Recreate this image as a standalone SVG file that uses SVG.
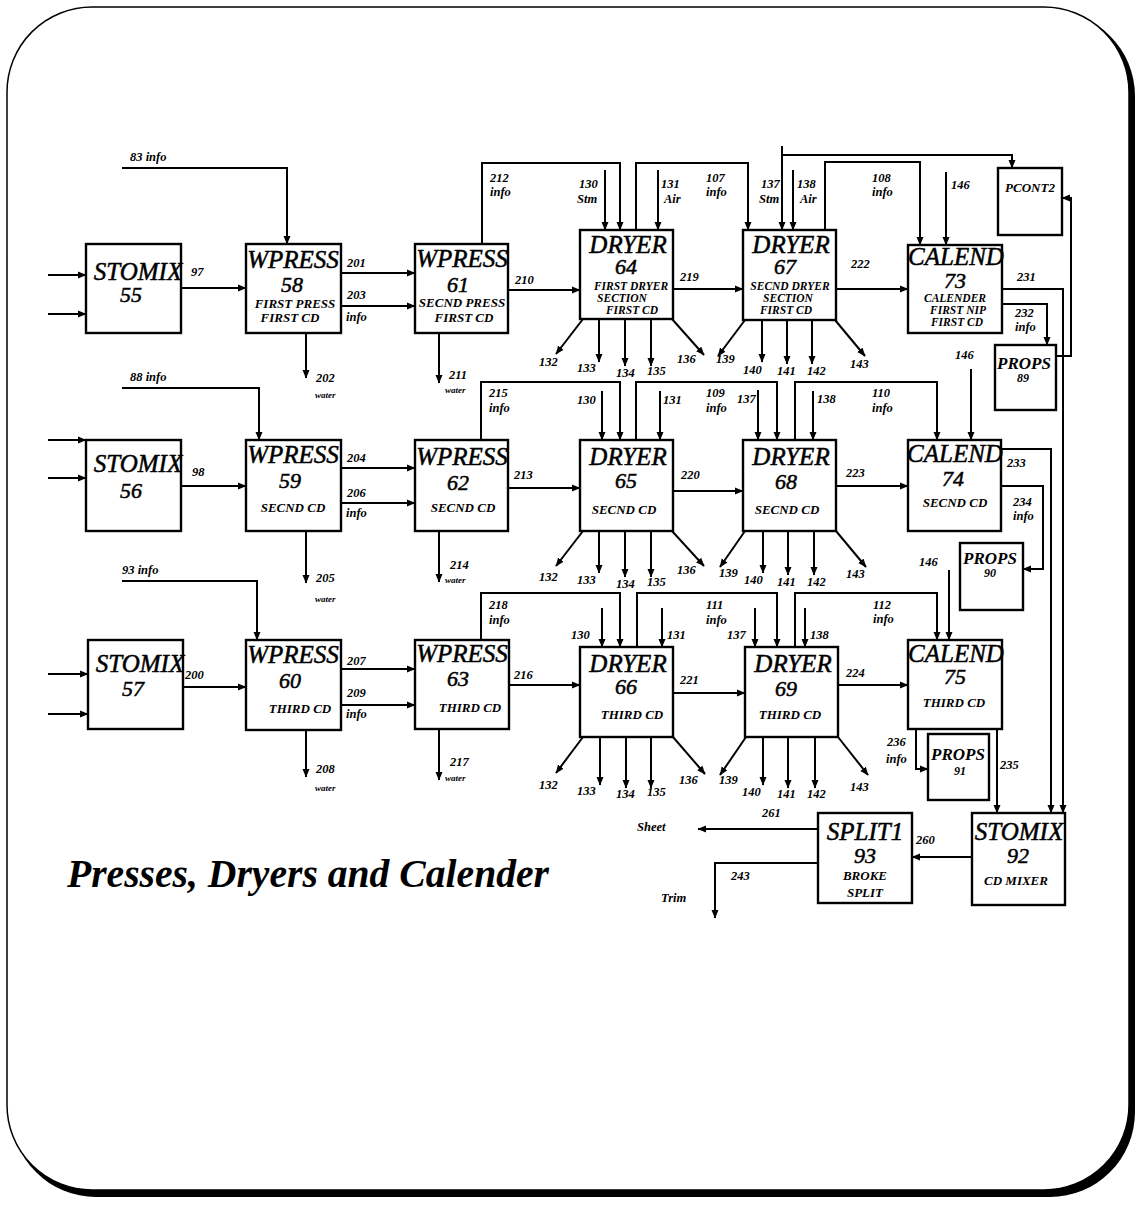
<svg xmlns="http://www.w3.org/2000/svg" width="1142" height="1205" viewBox="0 0 1142 1205">
<defs>
<marker id="ah" markerWidth="9" markerHeight="8" refX="8" refY="4" orient="auto" markerUnits="userSpaceOnUse"><path d="M0,0.5 L8.5,4 L0,7.5 z" fill="#000"/></marker>
<style>
.box{fill:#fff;stroke:#000;stroke-width:2.4}
.ln{fill:none;stroke:#000;stroke-width:2}
.a{marker-end:url(#ah)}
text{font-family:"Liberation Serif","Times New Roman",serif;font-style:italic;fill:#000}
.t{font-size:25px;text-anchor:middle;stroke:#000;stroke-width:0.5}
.n{font-size:22px;text-anchor:middle;stroke:#000;stroke-width:0.5}
.s{font-size:13px;font-weight:bold;text-anchor:middle}
.s3{font-size:11.5px;font-weight:bold;text-anchor:middle}
.p{font-size:17px;font-weight:bold;text-anchor:middle}
.pn{font-size:12px;font-weight:bold;text-anchor:middle}
.l{font-size:12.5px;font-weight:bold}
.w{font-size:9px;font-weight:bold}
.title{font-size:39px;font-weight:bold}
</style>
</defs>
<rect x="11" y="11" width="1124" height="1186" rx="85" fill="#000"/>
<rect x="7" y="7" width="1122" height="1183" rx="85" fill="#fff" stroke="#000" stroke-width="1.5"/>

<g id="connectors">
<!-- row 1 -->
<path class="ln a" d="M48 275 H86"/>
<path class="ln a" d="M48 314 H86"/>
<path class="ln a" d="M181 288 H246"/>
<path class="ln a" d="M122 168 H287 V244"/>
<path class="ln a" d="M341 273 H415"/>
<path class="ln a" d="M341 306 H415"/>
<path class="ln a" d="M306 333 V378"/>
<path class="ln a" d="M439 333 V383"/>
<path class="ln a" d="M508 290 H580"/>
<path class="ln a" d="M482 244 V163 H620 V230"/>
<path class="ln a" d="M605 170 V230"/>
<path class="ln a" d="M658 170 V230"/>
<path class="ln a" d="M636 230 V163 H748 V230"/>
<path class="ln a" d="M673 289 H743"/>
<path class="ln a" d="M583 319 L556 354"/>
<path class="ln a" d="M599 319 V362"/>
<path class="ln a" d="M625 319 V366"/>
<path class="ln a" d="M651 319 V366"/>
<path class="ln a" d="M672 319 L704 355"/>
<path class="ln a" d="M782 146 V230"/>
<path class="ln a" d="M782 155 H1012 V168"/>
<path class="ln a" d="M793 170 V230"/>
<path class="ln a" d="M825 230 V162 H920 V245"/>
<path class="ln a" d="M836 289 H908"/>
<path class="ln a" d="M745 320 L718 356"/>
<path class="ln a" d="M762 320 V362"/>
<path class="ln a" d="M787 320 V364"/>
<path class="ln a" d="M812 320 V364"/>
<path class="ln a" d="M835 320 L865 356"/>
<path class="ln a" d="M946 172 V245"/>
<path class="ln a" d="M1002 289 H1063 V813"/>
<path class="ln a" d="M1002 304 H1047 V345"/>
<path class="ln a" d="M1056 356 H1071 V198 H1062"/>
<!-- row 2 -->
<path class="ln a" d="M48 440 H86"/>
<path class="ln a" d="M48 478 H86"/>
<path class="ln a" d="M181 486 H246"/>
<path class="ln a" d="M122 388 H259 V440"/>
<path class="ln a" d="M341 468 H415"/>
<path class="ln a" d="M341 503 H415"/>
<path class="ln a" d="M306 531 V583"/>
<path class="ln a" d="M439 531 V582"/>
<path class="ln a" d="M508 488 H580"/>
<path class="ln a" d="M481 440 V382 H620 V440"/>
<path class="ln a" d="M602 391 V440"/>
<path class="ln a" d="M660 391 V440"/>
<path class="ln a" d="M636 440 V382 H777 V440"/>
<path class="ln a" d="M673 491 H743"/>
<path class="ln a" d="M583 531 L556 566"/>
<path class="ln a" d="M599 531 V573"/>
<path class="ln a" d="M625 531 V577"/>
<path class="ln a" d="M651 531 V577"/>
<path class="ln a" d="M672 531 L704 566"/>
<path class="ln a" d="M758 390 V440"/>
<path class="ln a" d="M813 391 V440"/>
<path class="ln a" d="M795 440 V382 H937 V440"/>
<path class="ln a" d="M836 486 H908"/>
<path class="ln a" d="M745 531 L720 567"/>
<path class="ln a" d="M763 531 V573"/>
<path class="ln a" d="M788 531 V575"/>
<path class="ln a" d="M814 531 V575"/>
<path class="ln a" d="M836 531 L866 567"/>
<path class="ln a" d="M971 369 V440"/>
<path class="ln a" d="M1001 449 H1051 V813"/>
<path class="ln a" d="M1001 486 H1043 V569 H1023"/>
<!-- row 3 -->
<path class="ln a" d="M48 674 H88"/>
<path class="ln a" d="M48 714 H88"/>
<path class="ln a" d="M183 687 H246"/>
<path class="ln a" d="M122 581 H257 V640"/>
<path class="ln a" d="M341 669 H415"/>
<path class="ln a" d="M341 705 H415"/>
<path class="ln a" d="M306 730 V777"/>
<path class="ln a" d="M439 729 V780"/>
<path class="ln a" d="M509 685 H580"/>
<path class="ln a" d="M481 640 V593 H620 V647"/>
<path class="ln a" d="M602 608 V647"/>
<path class="ln a" d="M662 608 V647"/>
<path class="ln a" d="M637 647 V593 H777 V647"/>
<path class="ln a" d="M673 693 H745"/>
<path class="ln a" d="M583 737 L556 773"/>
<path class="ln a" d="M600 737 V785"/>
<path class="ln a" d="M626 737 V788"/>
<path class="ln a" d="M651 737 V788"/>
<path class="ln a" d="M673 737 L705 774"/>
<path class="ln a" d="M755 608 V647"/>
<path class="ln a" d="M805 608 V647"/>
<path class="ln a" d="M795 647 V593 H937 V640"/>
<path class="ln a" d="M838 685 H908"/>
<path class="ln a" d="M746 737 L720 775"/>
<path class="ln a" d="M763 737 V785"/>
<path class="ln a" d="M788 737 V788"/>
<path class="ln a" d="M815 737 V788"/>
<path class="ln a" d="M838 737 L868 775"/>
<path class="ln a" d="M949 570 V640"/>
<path class="ln a" d="M916 729 V769 H928"/>
<path class="ln a" d="M997 729 V813"/>
<!-- bottom -->
<path class="ln a" d="M972 857 H912"/>
<path class="ln a" d="M818 829 H698"/>
<path class="ln a" d="M818 863 H715 V918"/>

<!-- labels row 1 -->
<text class="l" x="130" y="161">83  info</text>
<text class="l" x="191" y="276">97</text>
<text class="l" x="347" y="267">201</text>
<text class="l" x="347" y="299">203</text>
<text class="l" x="346" y="321">info</text>
<text class="l" x="316" y="382">202</text>
<text class="w" x="315" y="398">water</text>
<text class="l" x="449" y="379">211</text>
<text class="w" x="445" y="393">water</text>
<text class="l" x="515" y="284">210</text>
<text class="l" x="490" y="182">212</text>
<text class="l" x="490" y="196">info</text>
<text class="l" x="579" y="188">130</text>
<text class="l" x="577" y="203">Stm</text>
<text class="l" x="661" y="188">131</text>
<text class="l" x="664" y="203">Air</text>
<text class="l" x="706" y="182">107</text>
<text class="l" x="706" y="196">info</text>
<text class="l" x="680" y="281">219</text>
<text class="l" x="539" y="366">132</text>
<text class="l" x="577" y="372">133</text>
<text class="l" x="616" y="377">134</text>
<text class="l" x="647" y="375">135</text>
<text class="l" x="677" y="363">136</text>
<text class="l" x="716" y="363">139</text>
<text class="l" x="743" y="374">140</text>
<text class="l" x="777" y="375">141</text>
<text class="l" x="807" y="375">142</text>
<text class="l" x="850" y="368">143</text>
<text class="l" x="761" y="188">137</text>
<text class="l" x="759" y="203">Stm</text>
<text class="l" x="797" y="188">138</text>
<text class="l" x="800" y="203">Air</text>
<text class="l" x="872" y="182">108</text>
<text class="l" x="872" y="196">info</text>
<text class="l" x="951" y="189">146</text>
<text class="l" x="851" y="268">222</text>
<text class="l" x="1017" y="281">231</text>
<text class="l" x="1015" y="317">232</text>
<text class="l" x="1015" y="331">info</text>
<text class="l" x="955" y="359">146</text>
<!-- labels row 2 -->
<text class="l" x="130" y="381">88  info</text>
<text class="l" x="192" y="476">98</text>
<text class="l" x="347" y="462">204</text>
<text class="l" x="347" y="497">206</text>
<text class="l" x="346" y="517">info</text>
<text class="l" x="316" y="582">205</text>
<text class="w" x="315" y="602">water</text>
<text class="l" x="489" y="397">215</text>
<text class="l" x="489" y="412">info</text>
<text class="l" x="577" y="404">130</text>
<text class="l" x="663" y="404">131</text>
<text class="l" x="706" y="397">109</text>
<text class="l" x="706" y="412">info</text>
<text class="l" x="514" y="479">213</text>
<text class="l" x="681" y="479">220</text>
<text class="l" x="450" y="569">214</text>
<text class="w" x="445" y="583">water</text>
<text class="l" x="539" y="581">132</text>
<text class="l" x="577" y="584">133</text>
<text class="l" x="616" y="588">134</text>
<text class="l" x="647" y="586">135</text>
<text class="l" x="677" y="574">136</text>
<text class="l" x="719" y="577">139</text>
<text class="l" x="737" y="403">137</text>
<text class="l" x="817" y="403">138</text>
<text class="l" x="872" y="397">110</text>
<text class="l" x="872" y="412">info</text>
<text class="l" x="846" y="477">223</text>
<text class="l" x="1007" y="467">233</text>
<text class="l" x="1013" y="506">234</text>
<text class="l" x="1013" y="520">info</text>
<text class="l" x="744" y="584">140</text>
<text class="l" x="777" y="586">141</text>
<text class="l" x="807" y="586">142</text>
<text class="l" x="846" y="578">143</text>
<text class="l" x="919" y="566">146</text>
<!-- labels row 3 -->
<text class="l" x="122" y="574">93  info</text>
<text class="l" x="185" y="679">200</text>
<text class="l" x="347" y="665">207</text>
<text class="l" x="347" y="697">209</text>
<text class="l" x="346" y="718">info</text>
<text class="l" x="316" y="773">208</text>
<text class="w" x="315" y="791">water</text>
<text class="l" x="489" y="609">218</text>
<text class="l" x="489" y="624">info</text>
<text class="l" x="571" y="639">130</text>
<text class="l" x="667" y="639">131</text>
<text class="l" x="706" y="609">111</text>
<text class="l" x="706" y="624">info</text>
<text class="l" x="514" y="679">216</text>
<text class="l" x="680" y="684">221</text>
<text class="l" x="450" y="766">217</text>
<text class="w" x="445" y="781">water</text>
<text class="l" x="539" y="789">132</text>
<text class="l" x="577" y="795">133</text>
<text class="l" x="616" y="798">134</text>
<text class="l" x="647" y="796">135</text>
<text class="l" x="679" y="784">136</text>
<text class="l" x="719" y="784">139</text>
<text class="l" x="727" y="639">137</text>
<text class="l" x="810" y="639">138</text>
<text class="l" x="873" y="609">112</text>
<text class="l" x="873" y="623">info</text>
<text class="l" x="846" y="677">224</text>
<text class="l" x="887" y="746">236</text>
<text class="l" x="886" y="763">info</text>
<text class="l" x="1000" y="769">235</text>
<text class="l" x="742" y="796">140</text>
<text class="l" x="777" y="798">141</text>
<text class="l" x="807" y="798">142</text>
<text class="l" x="850" y="791">143</text>
<!-- bottom labels -->
<text class="l" x="762" y="817">261</text>
<text class="l" x="637" y="831">Sheet</text>
<text class="l" x="916" y="844">260</text>
<text class="l" x="731" y="880">243</text>
<text class="l" x="661" y="902">Trim</text>
</g>

<g id="n-stomix55"><rect class="box" x="86" y="244" width="95" height="89"/><text class="t" x="138" y="280">STOMIX</text><text class="n" x="131" y="302">55</text></g>
<g id="n-wpress58"><rect class="box" x="246" y="244" width="95" height="89"/><text class="t" x="293" y="268">WPRESS</text><text class="n" x="292" y="292">58</text><text class="s" x="295" y="308">FIRST PRESS</text><text class="s" x="290" y="322">FIRST CD</text></g>
<g id="n-wpress61"><rect class="box" x="415" y="244" width="93" height="89"/><text class="t" x="462" y="267">WPRESS</text><text class="n" x="458" y="292">61</text><text class="s" x="462" y="307">SECND PRESS</text><text class="s" x="464" y="322">FIRST CD</text></g>
<g id="n-dryer64"><rect class="box" x="580" y="230" width="93" height="89"/><text class="t" x="628" y="253">DRYER</text><text class="n" x="626" y="274">64</text><text class="s3" x="631" y="290">FIRST DRYER</text><text class="s3" x="622" y="302">SECTION</text><text class="s3" x="632" y="314">FIRST CD</text></g>
<g id="n-dryer67"><rect class="box" x="743" y="230" width="93" height="90"/><text class="t" x="791" y="253">DRYER</text><text class="n" x="785" y="274">67</text><text class="s3" x="790" y="290">SECND DRYER</text><text class="s3" x="788" y="302">SECTION</text><text class="s3" x="786" y="314">FIRST CD</text></g>
<g id="n-calend73"><rect class="box" x="908" y="245" width="94" height="88"/><text class="t" x="956" y="265">CALEND</text><text class="n" x="955" y="288">73</text><text class="s3" x="955" y="302">CALENDER</text><text class="s3" x="958" y="314">FIRST NIP</text><text class="s3" x="957" y="326">FIRST CD</text></g>
<g id="n-pcont2"><rect class="box" x="998" y="168" width="64" height="67"/><text class="s" x="1030" y="192">PCONT2</text></g>
<g id="n-props89"><rect class="box" x="995" y="345" width="61" height="65"/><text class="p" x="1024" y="369">PROPS</text><text class="pn" x="1023" y="382">89</text></g>

<g id="n-stomix56"><rect class="box" x="86" y="440" width="95" height="91"/><text class="t" x="138" y="472">STOMIX</text><text class="n" x="131" y="498">56</text></g>
<g id="n-wpress59"><rect class="box" x="246" y="440" width="95" height="91"/><text class="t" x="293" y="463">WPRESS</text><text class="n" x="290" y="488">59</text><text class="s" x="293" y="512">SECND CD</text></g>
<g id="n-wpress62"><rect class="box" x="415" y="440" width="93" height="91"/><text class="t" x="462" y="465">WPRESS</text><text class="n" x="458" y="490">62</text><text class="s" x="463" y="512">SECND CD</text></g>
<g id="n-dryer65"><rect class="box" x="580" y="440" width="93" height="91"/><text class="t" x="628" y="465">DRYER</text><text class="n" x="626" y="488">65</text><text class="s" x="624" y="514">SECND CD</text></g>
<g id="n-dryer68"><rect class="box" x="743" y="440" width="93" height="91"/><text class="t" x="791" y="465">DRYER</text><text class="n" x="786" y="489">68</text><text class="s" x="787" y="514">SECND CD</text></g>
<g id="n-calend74"><rect class="box" x="908" y="440" width="93" height="91"/><text class="t" x="955" y="462">CALEND</text><text class="n" x="953" y="486">74</text><text class="s" x="955" y="507">SECND CD</text></g>
<g id="n-props90"><rect class="box" x="960" y="543" width="63" height="67"/><text class="p" x="990" y="564">PROPS</text><text class="pn" x="990" y="577">90</text></g>

<g id="n-stomix57"><rect class="box" x="88" y="640" width="95" height="89"/><text class="t" x="140" y="672">STOMIX</text><text class="n" x="133" y="696">57</text></g>
<g id="n-wpress60"><rect class="box" x="246" y="640" width="95" height="90"/><text class="t" x="293" y="663">WPRESS</text><text class="n" x="290" y="688">60</text><text class="s" x="300" y="713">THIRD CD</text></g>
<g id="n-wpress63"><rect class="box" x="415" y="640" width="94" height="89"/><text class="t" x="462" y="662">WPRESS</text><text class="n" x="458" y="686">63</text><text class="s" x="470" y="712">THIRD CD</text></g>
<g id="n-dryer66"><rect class="box" x="580" y="647" width="93" height="90"/><text class="t" x="628" y="672">DRYER</text><text class="n" x="626" y="694">66</text><text class="s" x="632" y="719">THIRD CD</text></g>
<g id="n-dryer69"><rect class="box" x="745" y="647" width="93" height="90"/><text class="t" x="793" y="672">DRYER</text><text class="n" x="786" y="696">69</text><text class="s" x="790" y="719">THIRD CD</text></g>
<g id="n-calend75"><rect class="box" x="908" y="640" width="94" height="89"/><text class="t" x="956" y="662">CALEND</text><text class="n" x="955" y="684">75</text><text class="s" x="954" y="707">THIRD CD</text></g>
<g id="n-props91"><rect class="box" x="928" y="734" width="61" height="66"/><text class="p" x="958" y="760">PROPS</text><text class="pn" x="960" y="775">91</text></g>

<g id="n-split93"><rect class="box" x="818" y="813" width="94" height="90"/><text class="t" x="865" y="840">SPLIT1</text><text class="n" x="865" y="863">93</text><text class="s" x="865" y="880">BROKE</text><text class="s" x="865" y="897">SPLIT</text></g>
<g id="n-stomix92"><rect class="box" x="972" y="813" width="93" height="92"/><text class="t" x="1019" y="840">STOMIX</text><text class="n" x="1018" y="863">92</text><text class="s" x="1016" y="885">CD MIXER</text></g>

<text class="title" x="67" y="887" textLength="482" lengthAdjust="spacingAndGlyphs">Presses, Dryers and Calender</text>
</svg>
